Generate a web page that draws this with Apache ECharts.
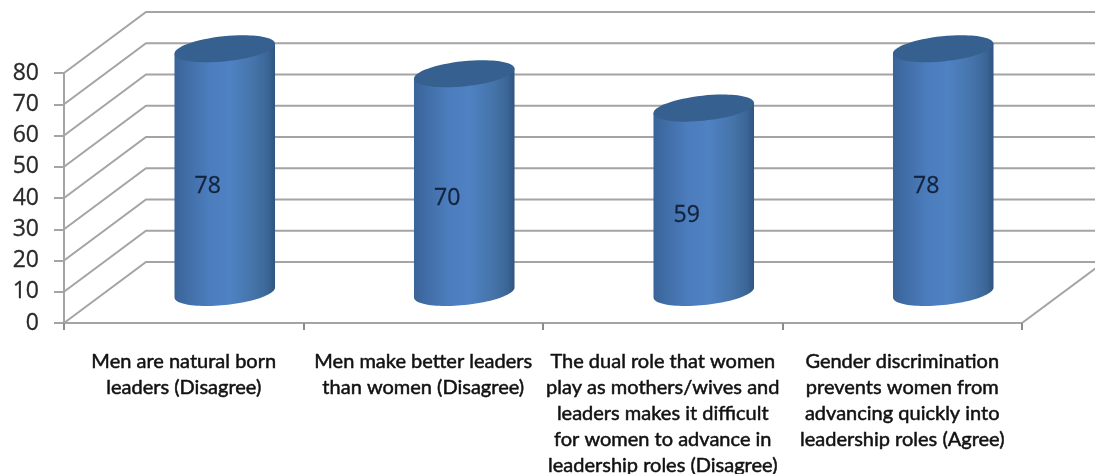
<!DOCTYPE html>
<html>
<head>
<meta charset="utf-8">
<style>html,body{margin:0;padding:0;background:#fff}#chart{width:1095px;height:474px}</style>
<script src="https://cdn.jsdelivr.net/npm/echarts@6/dist/echarts.min.js"></script>
</head>
<body>
<div id="chart"></div>
<script>
// Survey statements and the share of respondents for each
const categories = [
  'Men are natural born\nleaders (Disagree)',
  'Men make better leaders\nthan women (Disagree)',
  'The dual role that women\nplay as mothers/wives and\nleaders makes it difficult\nfor women to advance in\nleadership roles (Disagree)',
  'Gender discrimination\nprevents women from\nadvancing quickly into\nleadership roles (Agree)'
];
const values = [78, 70, 59, 78];
const yTicks = [0, 10, 20, 30, 40, 50, 60, 70, 80];

// Oblique projection of the chart box: how far the back wall sits from the front plane
const DEPTH_X = 82;
const DEPTH_Y = 61;
const GRID_COLOR = '#a4a4a4';
const TILT = -6 * Math.PI / 180;

// Point on a tilted ellipse at parameter t
function ellipsePoint(cx, cy, a, b, t) {
  const c = Math.cos(TILT), s = Math.sin(TILT);
  return [
    cx + a * Math.cos(t) * c - b * Math.sin(t) * s,
    cy + a * Math.cos(t) * s + b * Math.sin(t) * c
  ];
}

// Wall gridlines: one diagonal on the left wall and one line on the back wall per tick
function renderWall(params, api) {
  const rect = params.coordSys;
  const y = api.coord([0, api.value(1)])[1];
  const left = rect.x, right = rect.x + rect.width;
  const style = { stroke: GRID_COLOR, lineWidth: 2, fill: null };
  const pts = [[left, y], [left + DEPTH_X, y - DEPTH_Y], [right + DEPTH_X, y - DEPTH_Y]];
  const children = [{ type: 'polyline', shape: { points: pts }, style }];
  if (api.value(1) === 0) {
    children.push({
      type: 'line',
      shape: { x1: right, y1: y, x2: right + DEPTH_X, y2: y - DEPTH_Y },
      style
    });
  }
  return { type: 'group', children };
}

// Cylinder standing halfway into the box depth
function renderCylinder(params, api) {
  const v = api.value(1);
  const base = api.coord([api.value(0), 0]);
  const top = api.coord([api.value(0), v]);
  const a = api.size([1, 0])[0] * 0.211;
  const b = 12.5;
  const cx = base[0] + DEPTH_X / 2;
  const baseY = base[1] - DEPTH_Y / 2;
  const topY = top[1] - DEPTH_Y / 2;

  // Parameter where the ellipse reaches its widest x, used for the side silhouette
  const t0 = Math.atan2(-b * Math.sin(TILT), a * Math.cos(TILT));
  const outline = [];
  for (let i = 0; i <= 48; i++) {
    outline.push(ellipsePoint(cx, baseY, a, b, t0 + Math.PI * i / 48));
  }
  outline.push(ellipsePoint(cx, topY, a, b, t0 + Math.PI));
  outline.push(ellipsePoint(cx, topY, a, b, t0));

  const mid = api.coord([api.value(0), v / 2]);
  return {
    type: 'group',
    children: [
      {
        type: 'polygon',
        shape: { points: outline },
        style: {
          fill: {
            type: 'linear', x: 0, y: 0, x2: 1, y2: 0,
            colorStops: [
              { offset: 0, color: '#3a6398' },
              { offset: 0.12, color: '#406da6' },
              { offset: 0.35, color: '#4c7dbd' },
              { offset: 0.55, color: '#4f82c3' },
              { offset: 0.8, color: '#4573a8' },
              { offset: 0.93, color: '#3a6596' },
              { offset: 1, color: '#30557f' }
            ]
          }
        }
      },
      {
        type: 'ellipse',
        x: cx, y: topY, rotation: -TILT, originX: 0, originY: 0,
        shape: { cx: 0, cy: 0, rx: a, ry: b },
        style: { fill: '#35608f' }
      },
      {
        type: 'text',
        x: mid[0] + 24, y: mid[1] - 15,
        style: {
          text: String(v),
          font: '23px "Open Sans"',
          fill: '#14233c',
          stroke: '#14233c',
          lineWidth: 0.3,
          textAlign: 'center',
          textVerticalAlign: 'middle'
        }
      }
    ]
  };
}

const chart = echarts.init(document.getElementById('chart'), null, { renderer: 'canvas' });
chart.setOption({
  animation: false,
  backgroundColor: '#ffffff',
  grid: { left: 64, right: 73, top: 73, bottom: 151, outerBoundsMode: 'none' },
  xAxis: {
    type: 'category',
    data: categories,
    boundaryGap: true,
    axisLine: { lineStyle: { color: GRID_COLOR, width: 2 } },
    axisTick: { show: true, length: 7, lineStyle: { color: '#8c8c8c', width: 2 } },
    axisLabel: {
      interval: 0,
      margin: 26,
      fontFamily: 'Lato',
      fontSize: 20,
      lineHeight: 26,
      color: '#111111',
      textBorderColor: '#111111',
      textBorderWidth: 0.5,
      align: 'center',
      verticalAlign: 'top'
    }
  },
  yAxis: {
    type: 'value',
    min: 0,
    max: 80,
    interval: 10,
    splitLine: { show: false },
    axisLine: { show: true, lineStyle: { color: GRID_COLOR, width: 2 } },
    axisTick: { show: true, length: 10, lineStyle: { color: GRID_COLOR, width: 2 } },
    axisLabel: {
      margin: 25,
      padding: [4, 0, 0, 0],
      fontFamily: 'Open Sans',
      fontSize: 23,
      color: '#2a2a2a',
      textBorderColor: '#2a2a2a',
      textBorderWidth: 0.3
    }
  },
  series: [
    {
      name: 'walls',
      type: 'custom',
      renderItem: renderWall,
      clip: false,
      silent: true,
      z: 1,
      data: yTicks.map(t => [0, t])
    },
    {
      name: 'responses',
      type: 'custom',
      renderItem: renderCylinder,
      clip: false,
      z: 3,
      data: values.map((v, i) => [i, v])
    }
  ]
});
</script>
</body>
</html>
